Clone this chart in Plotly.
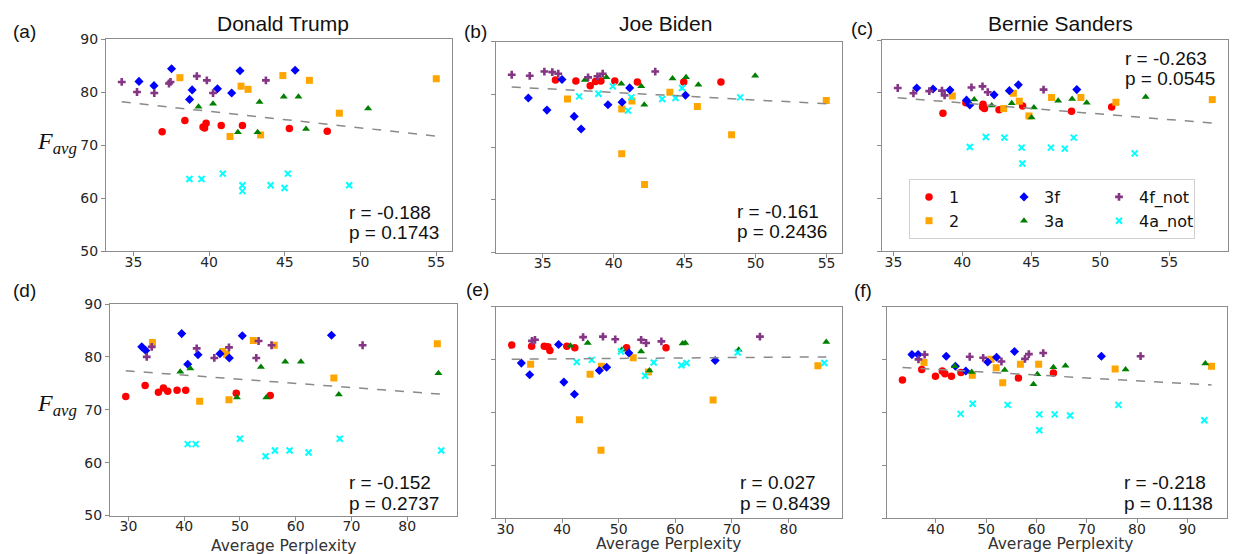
import numpy as np
import plotly.graph_objects as go

W, H = 1233, 554

SERIES = ["1", "2", "3f", "3a", "4f_not", "4a_not"]
COLORS = {"1": "#ff0000", "2": "#ffa500", "3f": "#0000ff", "3a": "#008000",
          "4f_not": "#843584", "4a_not": "#00ffff"}
SYMBOLS = {"1": "circle", "2": "square", "3f": "diamond", "3a": "triangle-up",
           "4f_not": "cross", "4a_not": "x-thin"}
SIZES = {"1": 7.5, "2": 7, "3f": 7, "3a": 7, "4f_not": 6.5, "4a_not": 6}
GROUPS = {"1": "g1", "2": "g1", "3f": "g2", "3a": "g2", "4f_not": "g3", "4a_not": "g3"}

# ---- (a) Donald Trump ----
a_x = {
    "1": [36.9, 38.4, 39.6, 39.7, 39.8, 40.8, 42.2, 45.3, 47.8],
    "2": [38.07, 41.38, 42.11, 42.57, 43.4, 44.87, 46.62, 48.6, 55.0],
    "3f": [35.37, 36.36, 37.52, 38.71, 38.88, 40.55, 41.49, 42.04, 45.68],
    "3a": [39.3, 40.26, 41.9, 43.2, 43.33, 44.93, 45.9, 46.4, 50.5],
    "4f_not": [34.23, 35.24, 36.38, 37.35, 37.45, 39.19, 39.85, 40.26, 43.75],
    "4a_not": [38.7, 39.5, 40.9, 42.2, 42.2, 44.06, 44.98, 45.2, 49.25],
}
a_y = {
    "1": [72.5, 74.6, 73.4, 73.2, 74.1, 73.7, 73.7, 73.1, 72.6],
    "2": [82.7, 71.6, 81.1, 80.5, 71.9, 83.1, 82.2, 76.0, 82.5],
    "3f": [82.0, 81.2, 84.4, 78.6, 80.4, 80.6, 79.8, 84.0, 84.1],
    "3a": [77.2, 77.8, 72.4, 72.4, 78.1, 79.1, 79.1, 73.0, 76.9],
    "4f_not": [81.9, 80.0, 79.8, 81.6, 81.9, 83.0, 82.2, 79.8, 82.2],
    "4a_not": [63.6, 63.6, 64.6, 62.4, 61.3, 62.4, 61.9, 64.6, 62.4],
}

# ---- (b) Joe Biden ----
b_x = {
    "1": [35.9, 37.34, 38.35, 38.72, 39.1, 40.08, 41.67, 44.94, 47.56],
    "2": [36.75, 40.57, 40.57, 41.29, 42.18, 43.96, 45.9, 48.31, 54.98],
    "3f": [33.99, 35.3, 36.36, 37.22, 37.71, 39.6, 40.59, 41.13, 45.06],
    "3a": [37.97, 39.49, 40.54, 41.95, 42.16, 44.15, 45.1, 45.97, 49.97],
    "4f_not": [32.82, 34.09, 35.12, 35.68, 36.1, 38.2, 38.86, 39.23, 42.93],
    "4a_not": [37.57, 38.93, 39.94, 41.01, 41.25, 43.42, 44.36, 44.82, 48.92],
}
b_y = {
    "1": [82.7, 82.5, 81.6, 82.4, 82.5, 82.5, 82.3, 82.3, 82.3],
    "2": [79.1, 77.2, 68.7, 78.7, 62.9, 80.4, 77.7, 72.3, 78.8],
    "3f": [79.3, 77.0, 82.8, 75.8, 73.4, 78.0, 78.5, 81.2, 79.8],
    "3a": [82.7, 83.2, 82.0, 81.5, 78.0, 83.0, 83.2, 81.8, 83.5],
    "4f_not": [83.7, 83.5, 84.3, 84.2, 83.9, 83.2, 83.4, 83.9, 84.3],
    "4a_not": [79.6, 80.1, 81.5, 76.9, 79.4, 79.1, 79.3, 81.2, 79.4],
}

# ---- (c) Bernie Sanders ----
c_x = {
    "1": [38.59, 40.25, 41.46, 41.5, 41.6, 42.66, 44.37, 47.92, 50.83],
    "2": [39.27, 43.0, 43.7, 44.13, 44.83, 46.47, 48.6, 51.14, 58.13],
    "3f": [36.69, 37.87, 39.1, 40.3, 40.54, 42.3, 43.41, 44.06, 48.3],
    "3a": [40.86, 42.13, 43.58, 45.02, 45.19, 46.95, 47.96, 49.02, 53.3],
    "4f_not": [35.31, 36.45, 37.6, 38.52, 38.71, 40.66, 41.46, 41.84, 45.89],
    "4a_not": [40.54, 41.7, 43.05, 44.3, 44.35, 46.42, 47.43, 48.08, 52.5],
}
c_y = {
    "1": [76.1, 78.1, 77.3, 77.8, 77.0, 76.8, 77.5, 76.5, 77.3],
    "2": [79.4, 77.0, 79.9, 78.4, 75.6, 79.1, 79.1, 78.2, 78.7],
    "3f": [80.9, 80.7, 80.5, 78.6, 77.7, 79.6, 80.4, 81.5, 80.6],
    "3a": [78.7, 77.6, 78.0, 75.3, 77.2, 78.5, 78.8, 78.1, 79.2],
    "4f_not": [80.9, 79.9, 80.3, 80.4, 79.5, 81.0, 81.2, 80.1, 80.6],
    "4a_not": [69.7, 71.6, 71.5, 69.6, 66.6, 69.6, 69.4, 71.5, 68.5],
}

# ---- (d) Donald Trump ----
d_x = {
    "1": [29.52, 32.99, 35.37, 36.27, 37.04, 38.72, 40.27, 49.34, 55.43],
    "2": [34.3, 42.78, 46.9, 47.6, 48.03, 52.39, 56.15, 66.84, 85.4],
    "3f": [32.39, 33.1, 39.55, 40.63, 42.48, 46.42, 48.09, 50.42, 66.42],
    "3a": [39.3, 41.1, 49.46, 53.76, 54.72, 58.12, 60.93, 67.73, 85.6],
    "4f_not": [33.28, 34.18, 42.24, 45.4, 48.03, 52.93, 53.34, 55.67, 72.0],
    "4a_not": [40.63, 42.06, 50.0, 54.6, 56.27, 58.9, 62.3, 67.9, 86.1],
}
d_y = {
    "1": [72.5, 74.6, 73.3, 74.1, 73.5, 73.7, 73.7, 73.1, 72.7],
    "2": [82.7, 71.6, 81.0, 80.5, 71.9, 83.1, 82.2, 76.0, 82.5],
    "3f": [81.9, 81.2, 84.4, 78.6, 80.4, 80.6, 79.8, 84.0, 84.1],
    "3a": [77.2, 77.8, 72.3, 78.1, 72.3, 79.1, 79.1, 72.9, 76.9],
    "4f_not": [80.0, 81.9, 81.6, 79.8, 81.8, 79.8, 83.0, 82.2, 82.2],
    "4a_not": [63.5, 63.5, 64.5, 61.2, 62.3, 62.3, 61.9, 64.5, 62.3],
}

# ---- (e) Joe Biden ----
e_x = {
    "1": [31.11, 34.63, 36.86, 37.5, 37.85, 40.84, 42.25, 51.4, 58.37],
    "2": [34.45, 43.07, 44.95, 46.88, 46.94, 52.57, 55.26, 66.69, 85.2],
    "3f": [32.81, 34.28, 39.38, 40.32, 42.19, 46.59, 47.88, 51.8, 67.05],
    "3a": [41.49, 44.54, 50.57, 53.97, 55.44, 61.3, 61.77, 71.2, 86.68],
    "4f_not": [34.69, 35.22, 43.72, 47.23, 49.4, 53.97, 54.85, 57.55, 74.96],
    "4a_not": [42.6, 45.24, 50.4, 54.68, 56.2, 61.07, 62.0, 71.03, 86.33],
}
e_y = {
    "1": [82.7, 82.5, 82.5, 82.4, 81.7, 82.5, 82.2, 82.2, 82.2],
    "2": [79.1, 68.6, 77.2, 62.8, 78.7, 80.3, 77.6, 72.3, 78.8],
    "3f": [79.3, 77.1, 82.8, 75.7, 73.4, 77.9, 78.5, 81.2, 79.8],
    "3a": [82.6, 83.1, 81.8, 81.5, 77.9, 83.0, 83.1, 81.8, 83.3],
    "4f_not": [83.5, 83.7, 84.2, 84.3, 83.8, 83.7, 83.1, 83.4, 84.3],
    "4a_not": [79.5, 79.9, 81.5, 76.9, 79.4, 78.9, 79.3, 81.3, 79.3],
}

# ---- (f) Bernie Sanders ----
f_x = {
    "1": [33.38, 37.21, 39.94, 41.3, 41.82, 43.12, 45.0, 56.43, 63.38],
    "2": [37.66, 47.27, 50.97, 52.01, 53.31, 56.82, 60.45, 75.65, 94.81],
    "3f": [35.26, 36.49, 42.08, 43.9, 45.97, 50.32, 52.08, 55.65, 72.92],
    "3a": [43.77, 47.14, 53.7, 59.42, 60.19, 63.38, 65.78, 77.73, 93.57],
    "4f_not": [36.56, 37.79, 46.75, 49.42, 53.05, 57.73, 58.5, 61.36, 80.71],
    "4a_not": [44.94, 47.34, 54.29, 60.58, 60.58, 63.64, 66.69, 76.3, 93.38],
}
f_y = {
    "1": [76.1, 78.1, 76.8, 77.8, 77.3, 76.8, 77.5, 76.5, 77.4],
    "2": [79.4, 77.0, 80.0, 78.4, 75.6, 79.1, 79.1, 78.2, 78.7],
    "3f": [80.9, 80.9, 80.6, 78.7, 77.8, 79.5, 80.4, 81.5, 80.6],
    "3a": [78.7, 77.6, 78.0, 75.3, 77.2, 78.5, 78.8, 78.1, 79.2],
    "4f_not": [80.0, 80.9, 80.5, 80.3, 79.6, 80.1, 81.0, 81.2, 80.6],
    "4a_not": [69.7, 71.6, 71.4, 69.6, 66.6, 69.6, 69.4, 71.4, 68.5],
}

r_values = ["-0.188", "-0.161", "-0.263", "-0.152", "0.027", "-0.218"]
p_values = ["0.1743", "0.2436", "0.0545", "0.2737", "0.8439", "0.1138"]
titles = ["Donald Trump", "Joe Biden", "Bernie Sanders"]
panel_tags = ["(a)", "(b)", "(c)", "(d)", "(e)", "(f)"]
x_ticks = [[35, 40, 45, 50, 55]] * 3 + [[30, 40, 50, 60, 70, 80]] * 2 + [[40, 50, 60, 70, 80, 90]]
y_ticks = [50, 60, 70, 80, 90]

panels = [(a_x, a_y), (b_x, b_y), (c_x, c_y), (d_x, d_y), (e_x, e_y), (f_x, f_y)]

# pixel boxes of each plot area: left, right, top, bottom
boxes = [(106, 452, 39, 251), (496, 842, 41.5, 252.5), (882, 1228, 40, 251),
         (110, 457, 304, 515.5), (496, 842, 306.5, 518), (887, 1227, 306.5, 518)]
# r / p text anchors (left x, centre y of the r line)
stat_pos = [(347, 212), (735, 211.5), (1123, 58), (347, 482.5), (738, 482.5), (1122, 482.5)]
tag_pos = [(11, 31), (462, 31), (849, 28), (11, 290), (464, 289), (852, 290)]


def px(x):
    return x / W


def py(y):
    return 1 - y / H


fig = go.Figure()
layout = {}
annotations = []
tick_font = dict(family="DejaVu Sans", size=14, color="#262626")
frame = "#8c8c8c"
stat_font = dict(family="Liberation Sans", size=19, color="#111")

for i, (px_d, py_d) in enumerate(panels):
    n = i + 1
    xa = "x" if n == 1 else f"x{n}"
    ya = "y" if n == 1 else f"y{n}"
    all_x = np.concatenate([px_d[s] for s in SERIES])
    all_y = np.concatenate([py_d[s] for s in SERIES])

    for s in SERIES:
        marker = dict(color=COLORS[s], symbol=SYMBOLS[s], size=SIZES[s])
        if s == "4a_not":
            marker["line"] = dict(color=COLORS[s], width=2)
        else:
            marker["line"] = dict(width=0)
        fig.add_trace(go.Scatter(
            x=px_d[s], y=py_d[s], mode="markers", name=s, marker=marker,
            xaxis=xa, yaxis=ya, legendgroup=GROUPS[s], showlegend=(n == 3),
        ))

    # least-squares trend over all points of the panel
    slope, icpt = np.polyfit(all_x, all_y, 1)
    lx = np.array([all_x.min(), all_x.max()])
    fig.add_trace(go.Scatter(
        x=lx, y=slope * lx + icpt, mode="lines", showlegend=False,
        line=dict(color="#8a8a8a", width=1.5, dash="dash"),
        xaxis=xa, yaxis=ya, hoverinfo="skip",
    ))

    lo, hi = all_x.min(), all_x.max()
    pad = 0.05 * (hi - lo)
    l, r, t, b = boxes[i]
    key_x = "xaxis" if n == 1 else f"xaxis{n}"
    key_y = "yaxis" if n == 1 else f"yaxis{n}"
    layout[key_x] = dict(
        domain=[px(l), px(r)], anchor=ya, range=[lo - pad, hi + pad],
        tickvals=x_ticks[i], ticks="outside", ticklen=4, tickcolor=frame,
        ticklabelstandoff=-6,
        showline=True, mirror=True, linecolor=frame, linewidth=1.3,
        showgrid=False, zeroline=False, tickfont=tick_font,
    )
    layout[key_y] = dict(
        domain=[py(b), py(t)], anchor=xa, range=[50, 90],
        tickvals=y_ticks, ticks="outside", ticklen=4, tickcolor=frame,
        showline=True, mirror=True, linecolor=frame, linewidth=1.3,
        showgrid=False, zeroline=False, tickfont=tick_font,
        showticklabels=(n in (1, 4)),
    )

    sx, sy = stat_pos[i]
    annotations.append(dict(
        x=px(sx), y=py(sy), xref="paper", yref="paper", xanchor="left", yanchor="middle",
        text=f"r = {r_values[i]}", showarrow=False, font=stat_font,
    ))
    annotations.append(dict(
        x=px(sx), y=py(sy + 20.5), xref="paper", yref="paper", xanchor="left", yanchor="middle",
        text=f"p = {p_values[i]}", showarrow=False, font=stat_font,
    ))

# column titles
for title, cx in zip(titles, [283, 665, 1060]):
    annotations.append(dict(
        x=px(cx), y=py(23), xref="paper", yref="paper", xanchor="center", yanchor="middle",
        text=title, showarrow=False,
        font=dict(family="Liberation Sans", size=21, color="#111"),
    ))

# panel tags
for tag, (tx, ty) in zip(panel_tags, tag_pos):
    annotations.append(dict(
        x=px(tx), y=py(ty), xref="paper", yref="paper", xanchor="left", yanchor="middle",
        text=tag, showarrow=False,
        font=dict(family="Liberation Sans", size=19, color="#111"),
    ))

# y-axis labels
for ly in [143, 405]:
    annotations.append(dict(
        x=px(57), y=py(ly), xref="paper", yref="paper", xanchor="center", yanchor="middle",
        text="<i>F<sub>avg</sub></i>", showarrow=False,
        font=dict(family="Liberation Serif", size=24, color="#111"),
    ))

# x-axis labels on the bottom row
for lx, ly in [(283, 545.5), (668, 543.5), (1060, 543.5)]:
    annotations.append(dict(
        x=px(lx), y=py(ly), xref="paper", yref="paper", xanchor="center", yanchor="middle",
        text="Average Perplexity", showarrow=False,
        font=dict(family="DejaVu Sans", size=15.5, color="#333"),
    ))

fig.update_layout(
    width=W, height=H, margin=dict(l=0, r=0, t=0, b=0, autoexpand=False),
    paper_bgcolor="white", plot_bgcolor="white",
    annotations=annotations,
    legend=dict(
        orientation="h", traceorder="grouped", x=px(909), y=py(179),
        xanchor="left", yanchor="top", entrywidth=50, entrywidthmode="pixels",
        bgcolor="white", bordercolor="#d0d0d0", borderwidth=1,
        font=dict(family="DejaVu Sans", size=16, color="#111"), tracegroupgap=0,
    ),
    **layout,
)

fig.write_html("out.html")
